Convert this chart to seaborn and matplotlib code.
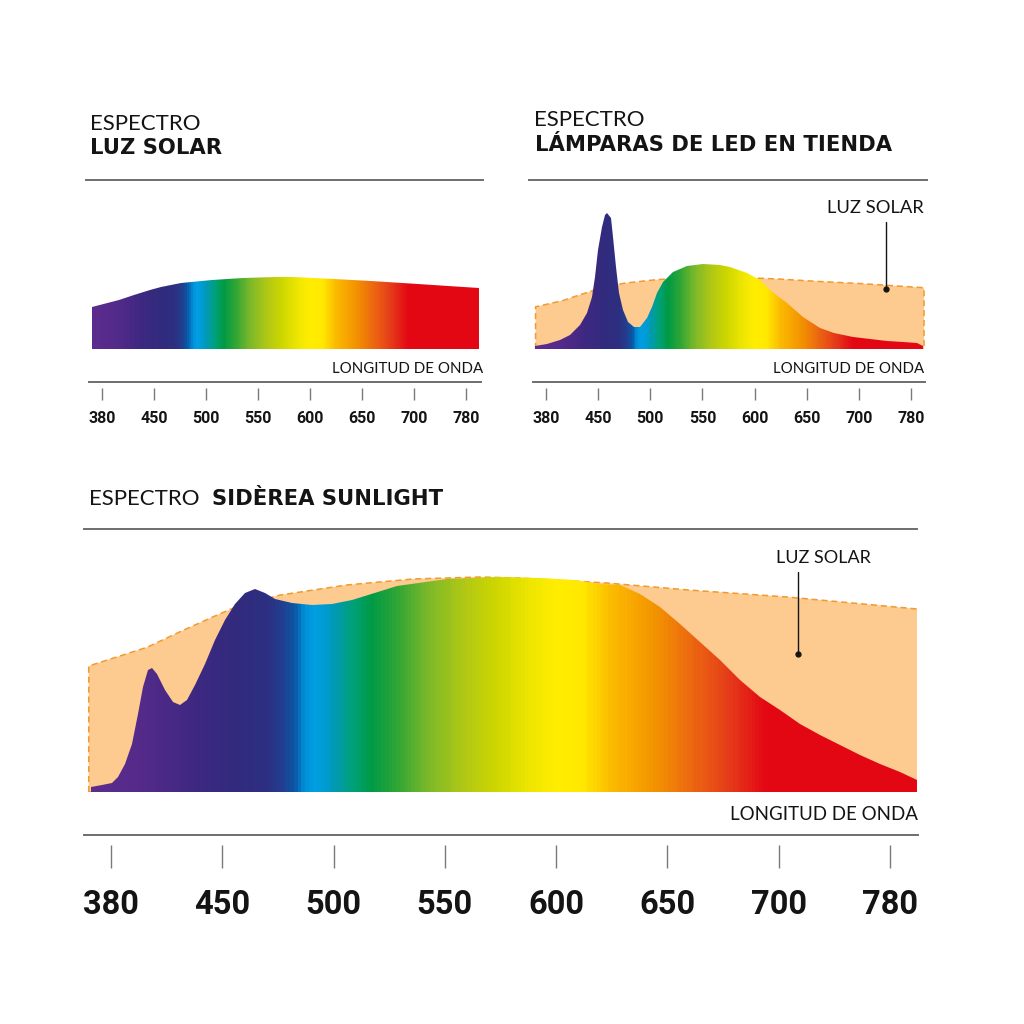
import numpy as np
import matplotlib
matplotlib.use("Agg")
import matplotlib.pyplot as plt
import seaborn as sns
from matplotlib.colors import LinearSegmentedColormap
from matplotlib.patches import PathPatch
from matplotlib.path import Path

# === Data ===
tick_nm = [380, 450, 500, 550, 600, 650, 700, 780]
tick_labels = ["380", "450", "500", "550", "600", "650", "700", "780"]

# sunlight spectrum (relative, peak = 1)
sun_nm = [366, 403, 423, 444, 457, 476, 506, 536, 566, 584, 623, 659, 706, 753, 800]
sun_val = [0.586, 0.674, 0.744, 0.814, 0.865, 0.916, 0.963, 0.991, 1.0, 0.995,
           0.972, 0.940, 0.907, 0.879, 0.851]

# shop LED lamps
led_nm = [365.2, 380.9, 398.8, 412.2, 425.6, 434.6, 441.4, 445.8, 450.2, 453.4, 456.6,
          458.8, 462.0, 464.5, 467.1, 470.3, 474.1, 478.9, 484.4, 490.1, 496.6, 501.4,
          506.2, 512.5, 522.1, 534.9, 550.9, 566.9, 576.4, 592.5, 605.2, 614.8, 624.4,
          630.8, 638.8, 646.5, 662.7, 676.5, 694.0, 717.1, 743.0, 767.8, 789.2, 798.4]
led_val = [0.042, 0.069, 0.125, 0.194, 0.333, 0.496, 0.726, 1.004, 1.375, 1.699, 1.861,
           1.885, 1.815, 1.560, 1.143, 0.774, 0.542, 0.379, 0.301, 0.310, 0.426, 0.588,
           0.774, 0.935, 1.074, 1.153, 1.181, 1.167, 1.139, 1.051, 0.958, 0.819, 0.704,
           0.634, 0.542, 0.444, 0.292, 0.22, 0.167, 0.139, 0.111, 0.097, 0.08, 0.04]

# Siderea Sunlight
sid_nm = [367.4, 374.1, 380.4, 384.6, 388.8, 393.0, 397.2, 400.3, 403.5, 405.6, 408.7,
          414.0, 419.2, 423.4, 427.6, 432.8, 439.1, 445.4, 451.2, 455.7, 460.2, 464.7,
          469.2, 473.7, 481.2, 490.2, 499.2, 508.1, 514.1, 528.5, 551.0, 573.4, 592.7,
          608.0, 619.7, 628.7, 637.7, 646.7, 655.7, 664.7, 673.6, 682.6, 691.6, 701.0,
          715.3, 729.7, 744.0, 758.4, 772.8, 787.2, 799.2]
sid_val = [0.023, 0.031, 0.042, 0.07, 0.132, 0.225, 0.364, 0.488, 0.569, 0.578, 0.550,
           0.473, 0.419, 0.406, 0.426, 0.496, 0.597, 0.705, 0.798, 0.876, 0.926, 0.943,
           0.926, 0.899, 0.879, 0.871, 0.876, 0.895, 0.910, 0.958, 0.991, 1.0, 0.995,
           0.985, 0.969, 0.961, 0.922, 0.860, 0.783, 0.698, 0.612, 0.519, 0.442, 0.380,
           0.318, 0.264, 0.217, 0.171, 0.132, 0.093, 0.054]

# colour of light along the spectrum
spec_nm = [365, 400, 430, 455, 470, 477, 482, 487, 491, 496, 501, 508, 517, 528, 542,
           558, 572, 588, 600, 612, 625, 645, 662, 678, 695, 800]
spec_col = ["#5B2C8E", "#532A89", "#3F2882", "#322A7D", "#2C2F81", "#213F91", "#0A55A3",
            "#0090D8", "#009FE3", "#009BD0", "#009AAE", "#00A07A", "#009A44", "#2EA536",
            "#79B82A", "#AFC716", "#CBD500", "#EDE500", "#FFED00", "#FFE800", "#FBBA00",
            "#F39200", "#EB6610", "#E53B1A", "#E30613", "#E30613"]

PEACH = "#FDCA8F"
DASH = "#F29A2E"
RULE = "#6E6E6E"
INK = "#141414"

# === Wavelength axis: ticks are evenly spaced ===
_nm_ext = np.array([300] + tick_nm + [900], float)
_idx_ext = np.concatenate([[-80 / 70], np.arange(8), [7 + 120 / 80]])


def fwd(x):
    return np.interp(x, _nm_ext, _idx_ext)


def inv(i):
    return np.interp(i, _idx_ext, _nm_ext)


lo, hi = spec_nm[0], spec_nm[-1]
spec_cmap = LinearSegmentedColormap.from_list(
    "spec", [((n - lo) / (hi - lo), c) for n, c in zip(spec_nm, spec_col)])

sns.set_theme(style="white")
plt.rcParams["font.family"] = ["Lato", "DejaVu Sans"]

W = H = 1024
fig = plt.figure(figsize=(10.24, 10.24), dpi=100)
fig.patch.set_facecolor("white")


def box(x0, y0, x1, y1):
    return [x0 / W, 1 - y1 / H, (x1 - x0) / W, (y1 - y0) / H]


def ftext(x, y, s, **kw):
    fig.text(x / W, 1 - y / H, s, color=INK, **kw)


def gradient_fill(ax, nm, val):
    verts = [(nm[0], 0)] + list(zip(nm, val)) + [(nm[-1], 0), (nm[0], 0)]
    clip = PathPatch(Path(verts), transform=ax.transData)
    edges = np.linspace(nm[0], nm[-1], 700)
    mids = (edges[:-1] + edges[1:]) / 2
    mesh = ax.pcolormesh(edges, [0, max(val) * 1.05], mids[None, :], cmap=spec_cmap,
                         vmin=lo, vmax=hi, shading="flat", antialiased=False,
                         linewidth=0, zorder=3)
    mesh.set_clip_path(clip)


def panel(cfg):
    first, step = cfg["first"], cfg["step"]
    px2nm = lambda p: inv((p - first) / step)

    # plot area, top spine is the rule under the title
    rx0, rx1, ry = cfg["rule"]
    base, peak = cfg["base"], cfg["peak"]
    ax = fig.add_axes(box(rx0, ry, rx1, base))
    ax.set_xscale("function", functions=(fwd, inv))
    ax.set_xlim(px2nm(rx0), px2nm(rx1))
    ax.set_ylim(0, (base - ry) / peak)
    ax.patch.set_alpha(0)
    ax.set_xticks([])
    ax.set_yticks([])
    for side in ["left", "right", "bottom"]:
        ax.spines[side].set_visible(False)
    ax.spines["top"].set_color(RULE)
    ax.spines["top"].set_linewidth(1.4)

    if cfg["other"] is not None:
        ax.fill_between(sun_nm, sun_val, 0, facecolor=PEACH, edgecolor=DASH,
                        linestyle=(0, (4, 2.5)), linewidth=1.1, zorder=1)
        gradient_fill(ax, cfg["other"][0], cfg["other"][1])
        lx, ly_top, ly_dot = cfg["leader"]
        ax.plot([lx, lx], [ly_dot, ly_top], color=INK, lw=1.0, zorder=4)
        ax.plot([lx], [ly_dot], "o", color=INK, ms=3.5, zorder=4)
        tx, ty, ha, fs = cfg["sun_label"]
        ftext(tx, ty, "LUZ SOLAR", ha=ha, va="baseline", fontsize=fs, fontweight="normal")
    else:
        gradient_fill(ax, sun_nm, sun_val)

    # wavelength axis
    ax0, ax1, ay, tlen = cfg["axis"]
    tk = fig.add_axes(box(ax0, ay, ax1, ay + cfg["gap"]))
    tk.set_xscale("function", functions=(fwd, inv))
    tk.set_xlim(px2nm(ax0), px2nm(ax1))
    tk.patch.set_alpha(0)
    tk.set_yticks([])
    for side in ["left", "right", "bottom"]:
        tk.spines[side].set_visible(False)
    tk.spines["top"].set_color(RULE)
    tk.spines["top"].set_linewidth(1.4)
    tk.set_xticks(tick_nm, tick_labels)
    tk.tick_params(axis="x", direction="out", length=tlen * 0.72, width=1.0,
                   color="#7A7A7A", pad=cfg["pad"], labelsize=cfg["labsize"],
                   labelcolor=INK, bottom=True)
    for lab in tk.get_xticklabels():
        lab.set_fontfamily(["Liberation Sans Narrow", "Roboto", "DejaVu Sans"])
        lab.set_fontweight("bold")

    lx, ly, fs = cfg["longitud"]
    ftext(lx, ly, "LONGITUD DE ONDA", ha="right", va="baseline", fontsize=fs)


# === Top-left: sunlight ===
panel(dict(first=102, step=52.0, rule=(86, 483, 180), base=349, peak=72, other=None,
           axis=(89, 481, 382, 12), gap=6, pad=8, labsize=11.5,
           longitud=(483, 373, 10.8)))
ftext(90, 130, "ESPECTRO", ha="left", va="baseline", fontsize=16, fontweight="normal")
ftext(90, 154, "LUZ SOLAR", ha="left", va="baseline", fontsize=15.2, fontweight="bold",
      family="DejaVu Sans")

# === Top-right: LED lamps ===
panel(dict(first=546, step=52.14, rule=(529, 927, 180), base=349, peak=72,
           other=(led_nm, led_val), leader=(741.7, 1.764, 0.833),
           sun_label=(924, 213, "right", 13.2),
           axis=(533, 925, 382, 12), gap=6, pad=8, labsize=11.5,
           longitud=(924, 373, 10.8)))
ftext(534, 126, "ESPECTRO", ha="left", va="baseline", fontsize=16, fontweight="normal")
ftext(535, 151, "LÁMPARAS DE LED EN TIENDA", ha="left", va="baseline", fontsize=15.2,
      fontweight="bold", family="DejaVu Sans")

# === Bottom: Siderea Sunlight ===
panel(dict(first=111, step=111.29, rule=(84, 917, 529), base=792, peak=215,
           other=(sid_nm, sid_val), leader=(713.8, 1.023, 0.642),
           sun_label=(823, 563, "center", 13),
           axis=(84, 918, 835, 23), gap=10, pad=15, labsize=23.5,
           longitud=(918, 820, 13.5)))
ftext(89, 505, "ESPECTRO", ha="left", va="baseline", fontsize=16, fontweight="normal")
ftext(212, 505, "SIDÈREA SUNLIGHT", ha="left", va="baseline", fontsize=15.2,
      fontweight="bold", family="DejaVu Sans")

fig.savefig("out.png", dpi=100, facecolor="white")
